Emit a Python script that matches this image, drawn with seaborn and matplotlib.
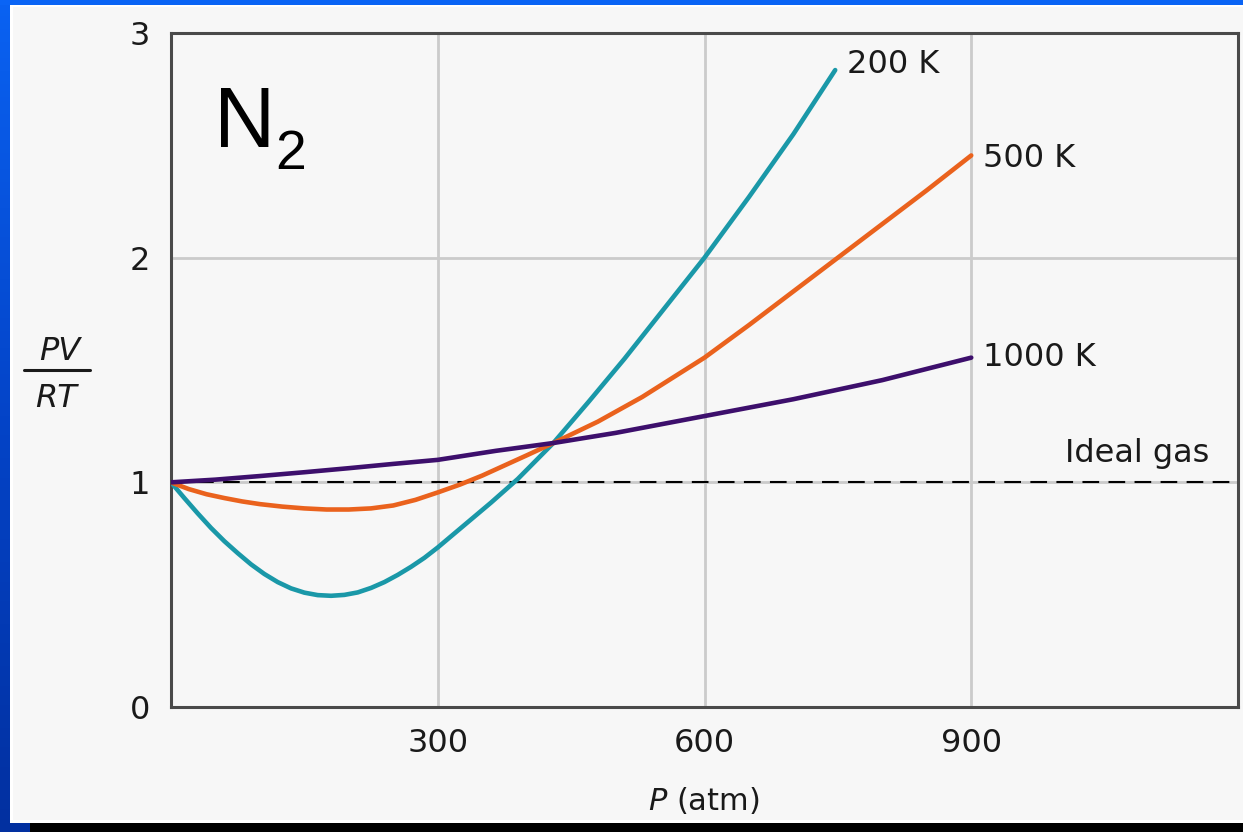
import numpy as np
import pandas as pd
import matplotlib
matplotlib.use("Agg")
import matplotlib.pyplot as plt
from matplotlib.patches import Rectangle
from matplotlib.lines import Line2D
import seaborn as sns

# Compressibility factor PV/RT of N2 against pressure (atm)
p_200 = [0, 15, 30, 45, 60, 75, 90, 105, 120, 135, 150, 165, 180, 195, 210,
         225, 240, 255, 270, 285, 300, 330, 360, 390, 430, 470, 510, 550, 600,
         650, 700, 747]
z_200 = [1.0, 0.93, 0.862, 0.797, 0.738, 0.685, 0.635, 0.592, 0.556, 0.528,
         0.509, 0.498, 0.495, 0.499, 0.51, 0.53, 0.556, 0.588, 0.624, 0.664,
         0.71, 0.81, 0.91, 1.015, 1.175, 1.36, 1.55, 1.75, 2.0, 2.27, 2.55,
         2.835]

p_500 = [0, 20, 40, 60, 80, 100, 125, 150, 175, 200, 225, 250, 275, 300, 325,
         350, 375, 400, 430, 480, 530, 600, 650, 700, 750, 800, 850, 900]
z_500 = [1.0, 0.97, 0.947, 0.93, 0.915, 0.903, 0.892, 0.884, 0.879, 0.879,
         0.884, 0.897, 0.922, 0.955, 0.99, 1.03, 1.075, 1.12, 1.175, 1.27,
         1.38, 1.555, 1.70, 1.85, 2.0, 2.15, 2.30, 2.455]

p_1000 = [0, 50, 100, 150, 200, 250, 300, 365, 430, 500, 600, 700, 800, 900]
z_1000 = [1.0, 1.012, 1.028, 1.045, 1.063, 1.082, 1.10, 1.14, 1.175, 1.22,
          1.295, 1.37, 1.455, 1.555]

series_names = ["200 K", "500 K", "1000 K"]
series_colors = ["#1a98a8", "#ea621d", "#3d0f6c"]

x_ticks = [300, 600, 900]
y_ticks = [0, 1, 2, 3]

df = pd.concat([
    pd.DataFrame({"P": p_200, "Z": z_200, "T": "200 K"}),
    pd.DataFrame({"P": p_500, "Z": z_500, "T": "500 K"}),
    pd.DataFrame({"P": p_1000, "Z": z_1000, "T": "1000 K"}),
], ignore_index=True)

sns.set_theme(style="white")
plt.rcParams["font.family"] = ["DejaVu Sans"]

W, H = 1243, 832
fig = plt.figure(figsize=(W / 100, H / 100), dpi=100)
fig.patch.set_facecolor("#f7f7f7")

# slide frame: blue edges, thin white rules, black strip at the foot
bg = fig.add_axes([0, 0, 1, 1], zorder=-10)
bg.set_xlim(0, W)
bg.set_ylim(H, 0)
bg.axis("off")
grad = np.linspace(0, 1, 256).reshape(-1, 1)
blue_cmap = matplotlib.colors.LinearSegmentedColormap.from_list(
    "slide_blue", ["#0a62f2", "#0444c8", "#0230a0"])
bg.imshow(grad, cmap=blue_cmap, extent=[0, 11, H, 0], aspect="auto")
bg.add_patch(Rectangle((0, 0), W, 5, color="#0a64f5", lw=0))
bg.add_patch(Rectangle((10, 5), W - 10, 2, color="white", lw=0))
bg.add_patch(Rectangle((10, 5), 3, 818, color="white", lw=0))
bg.add_patch(Rectangle((10, 820), W - 10, 3, color="white", lw=0))
bg.add_patch(Rectangle((0, 823), 30, 9, color="#0230a0", lw=0))
bg.add_patch(Rectangle((30, 823), W - 30, 9, color="black", lw=0))

ax = fig.add_axes([171 / W, 125 / H, 1067 / W, 674 / H])
ax.set_facecolor("#f7f7f7")

sns.lineplot(data=df, x="P", y="Z", hue="T", hue_order=series_names,
             palette=dict(zip(series_names, series_colors)), estimator=None,
             sort=False, legend=False, linewidth=3.3, ax=ax, zorder=3)
for ln in ax.get_lines():
    ln.set_solid_capstyle("round")
    ln.set_solid_joinstyle("round")

ax.axhline(1, color="black", lw=1.5, ls=(0, (8, 4.5)), zorder=2)

ax.set_xlim(0, 1200)
ax.set_ylim(0, 3)
ax.set_xticks(x_ticks)
ax.set_yticks(y_ticks)
ax.grid(True, color="#cbcbcb", lw=2)
ax.set_axisbelow(True)
for s in ax.spines.values():
    s.set_color("#4a4a4a")
    s.set_linewidth(2.2)
ax.tick_params(axis="both", length=0, labelsize=23, colors="#1a1a1a", pad=15)

ax.set_xlabel("$P$ (atm)", fontsize=22, color="#1a1a1a")
ax.xaxis.set_label_coords(0.499, (22 - 125) / 674)
ax.xaxis.label.set_verticalalignment("baseline")
ax.set_ylabel("")

# y-axis label drawn as a stacked fraction
tc = "#1a1a1a"
ax.text(-0.1045, (472 - 125) / 674, "PV", transform=ax.transAxes, ha="center",
        va="baseline", fontsize=23, style="italic", color=tc)
ax.text(-0.1080, (425 - 125) / 674, "RT", transform=ax.transAxes, ha="center",
        va="baseline", fontsize=23, style="italic", color=tc)
ax.add_line(Line2D([(24 - 171) / 1067, (90 - 171) / 1067], [0.5, 0.5],
                   transform=ax.transAxes, color=tc, lw=2.2, clip_on=False))

# curve labels
lab_kw = dict(fontsize=23, color=tc, va="baseline", ha="left")
ax.text(760, 2.822, "200 K", **lab_kw)
ax.text(913, 2.403, "500 K", **lab_kw)
ax.text(913, 1.518, "1000 K", **lab_kw)
ax.text(1168, 1.090, "Ideal gas", fontsize=23, color=tc, va="baseline",
        ha="right")

# gas formula
ax.text((214 - 171) / 1067, (685 - 125) / 674, "N", transform=ax.transAxes,
        fontsize=61, family="Liberation Sans", color="black", va="baseline")
ax.text((275 - 171) / 1067, (663 - 125) / 674, "2", transform=ax.transAxes,
        fontsize=40, family="Liberation Sans", color="black", va="baseline")

fig.savefig("out.png", dpi=100, facecolor=fig.get_facecolor())
